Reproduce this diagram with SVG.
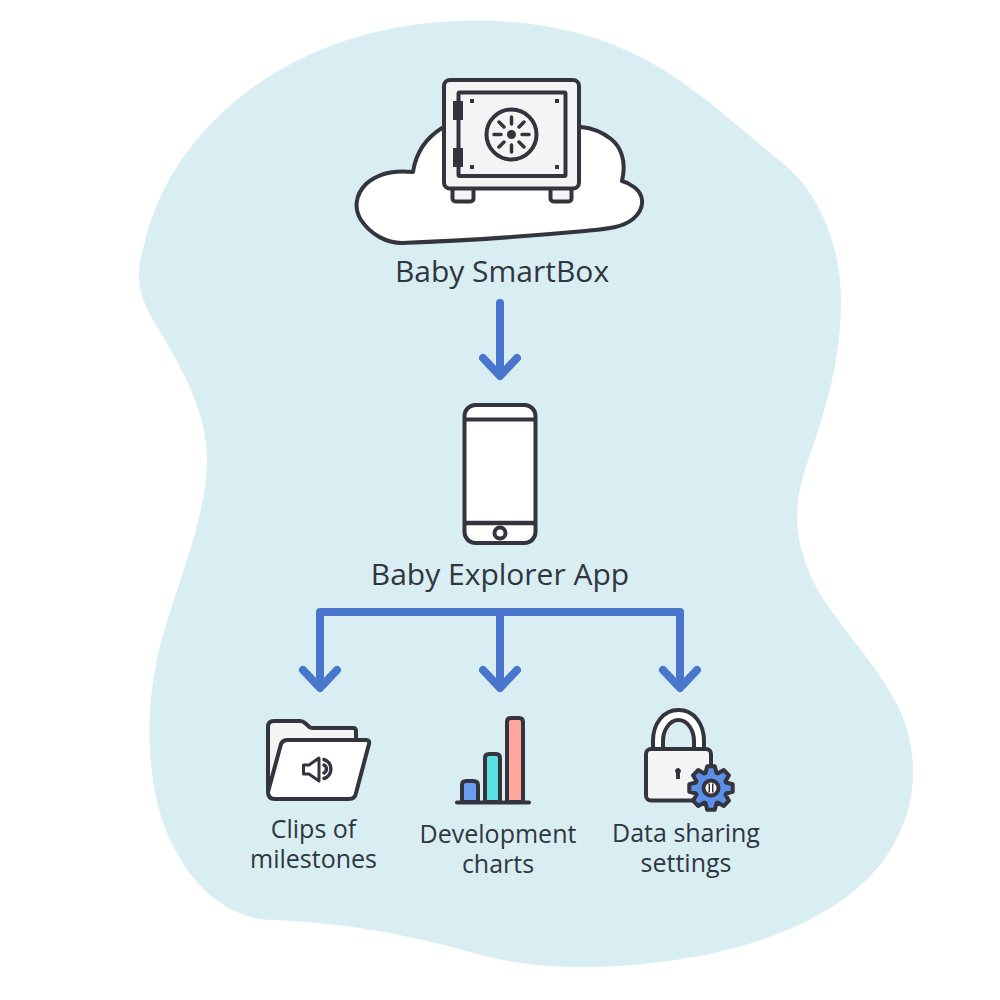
<svg xmlns="http://www.w3.org/2000/svg" width="1000" height="1000" viewBox="0 0 1000 1000">
<style>
.ic{stroke:#33343e;stroke-width:4;stroke-linejoin:round;stroke-linecap:round}
.d{fill:none;stroke:#33343e;stroke-width:3.500;stroke-linecap:round}
.k{fill:#33343e;stroke:none}
.f{fill:#f4f4f4}
.w{fill:#fff}
.a{fill:none;stroke:#4a75cc;stroke-width:8;stroke-linecap:round;stroke-linejoin:round}
text{font-family:"Open Sans","Liberation Sans",sans-serif;fill:#2f3640;text-anchor:middle}
.l{font-size:30px}
.s{font-size:25px}
</style>
<path id="blob" fill="#d9eef3" d="M140 262C150 215 165 175 205 130C255 75 330 35 420 24C500 14 585 25 650 62C700 90 735 125 785 165C825 200 842 255 841 305C840 370 822 420 805 470C792 510 795 545 815 585C840 630 880 665 902 715C922 765 915 820 880 865C840 915 760 950 660 962C600 970 530 970 470 952C410 935 340 922 270 920C225 917 190 885 168 835C148 790 145 720 155 670C165 610 205 530 207 465C208 415 185 375 165 340C150 315 135 295 140 262Z"/>
<g id="smartbox">
<path class="ic w" d="M442 128C426 138 416 152 413 172C395 170 378 173 366 184C355 195 354 209 361 220C371 235 387 243 402 243C460 241 530 236 585 231C605 229 622 228 633 219C645 209 645 195 634 187C630 184 626 182 622 181C627 160 620 146 611 139C602 132 592 128 581 127Z"/>
<rect class="ic f" x="452.500" y="186" width="21" height="15.500" rx="3"/>
<rect class="ic f" x="550.500" y="186" width="21" height="15.500" rx="3"/>
<rect class="ic f" x="444" y="80" width="135" height="108.500" rx="6"/>
<rect class="ic f" x="458.500" y="92.500" width="107" height="83.500" rx="1"/>
<rect class="k" x="453" y="101" width="10" height="19"/>
<rect class="k" x="453" y="148" width="10" height="19"/>
<rect class="k" x="470" y="99" width="4" height="4"/>
<rect class="k" x="555" y="99" width="4" height="4"/>
<rect class="k" x="470" y="165" width="4" height="4"/>
<rect class="k" x="555" y="165" width="4" height="4"/>
<circle class="ic f" cx="511.500" cy="134.500" r="25"/>
<circle class="k" cx="511.500" cy="134.500" r="4.500"/>
<path class="d" d="M511.500 117V124M511.500 145V152M494 134.500H501M522 134.500H529M499 122L504 127M519 142L524 147M524 122L519 127M504 142L499 147"/>
<text class="l" x="502" y="282">Baby SmartBox</text>
</g>
<g id="connectors">
<path class="a" d="M500 303V375M483 358L500 376L517 358"/>
<path class="a" d="M320 687V612H680V687M500 612V687M303 670L320 688L337 670M483 670L500 688L517 670M663 670L680 688L697 670"/>
</g>
<g id="app">
<rect class="ic w" x="464.500" y="405" width="71" height="138" rx="11"/>
<path class="ic" style="stroke-linecap:butt" d="M465 419.500H535"/>
<path class="ic" style="stroke-width:4.500;stroke-linecap:butt" d="M465 523H535"/>
<circle class="ic w" cx="500" cy="533" r="5.500"/>
<text class="l" x="500" y="585">Baby Explorer App</text>
</g>
<g id="clips">
<path class="ic f" d="M268 790V727Q268 721 274 721H300Q303 721 305 723L310 727.500Q311 728 314 728H353Q356 728 356 731V742H288Z"/>
<path class="ic w" d="M268 792L281 744Q283 740 287 740H366Q370 740 369 744L356 793Q355 799 349 799H275Q268 799 268 792Z"/>
<path class="ic w" style="stroke-width:3" d="M303.500 765H309L319 758V781L309 774H303.500Z"/>
<path class="d" d="M324 759.500A10 10 0 0 1 324 778.500M324 765A4.500 4.500 0 0 1 324 773"/>
<text class="s"><tspan x="313.500" y="838">Clips of</tspan><tspan x="313.500" y="868">milestones</tspan></text>
</g>
<g id="charts">
<path class="ic" style="fill:#6b9ef0" d="M462 802V785Q462 781 466 781H473Q478 781 478 785V802Z"/>
<path class="ic" style="fill:#58e0e4" d="M485 802V758Q485 754 489 754H496Q500 754 500 758V802Z"/>
<path class="ic" style="fill:#ffa79a" d="M507 802V722Q507 718 511 718H519Q523 718 523 722V802Z"/>
<path class="ic" d="M457 802.500H529"/>
<text class="s"><tspan x="498" y="843">Development</tspan><tspan x="498" y="873">charts</tspan></text>
</g>
<g id="settings">
<path class="ic w" d="M653 750V741C653 724 663 710 678.500 710C694 710 704 724 704 741V750H694V741C694 731 688 720 678.500 720C669 720 663 731 663 741V750Z"/>
<rect class="ic f" x="646" y="749" width="65" height="51.500" rx="5"/>
<path class="k" d="M676 773A2.800 2.800 0 1 1 680 773L680 779H676Z"/>
<polygon transform="translate(711 788)" fill="#5b8fe8" stroke="#33343e" stroke-width="4" stroke-linejoin="round" points="-3.800,-21.700 3.800,-21.700 5.500,-15 6.700,-14.500 12.700,-18 18,-12.700 14.500,-6.700 15,-5.500 21.700,-3.800 21.700,3.800 15,5.500 14.500,6.700 18,12.700 12.700,18 6.700,14.500 5.500,15 3.800,21.700 -3.800,21.700 -5.500,15 -6.700,14.500 -12.700,18 -18,12.700 -14.500,6.700 -15,5.500 -21.700,3.800 -21.700,-3.800 -15,-5.500 -14.500,-6.700 -18,-12.700 -12.700,-18 -6.700,-14.500 -5.500,-15"/>
<circle class="ic w" cx="711" cy="788" r="7.500"/>
<path class="k" d="M708.500 783.500H710V792.500H708.500ZM712 783.500H713.500V792.500H712Z"/>
<text class="s"><tspan x="686" y="842">Data sharing</tspan><tspan x="686" y="872">settings</tspan></text>
</g>
</svg>
